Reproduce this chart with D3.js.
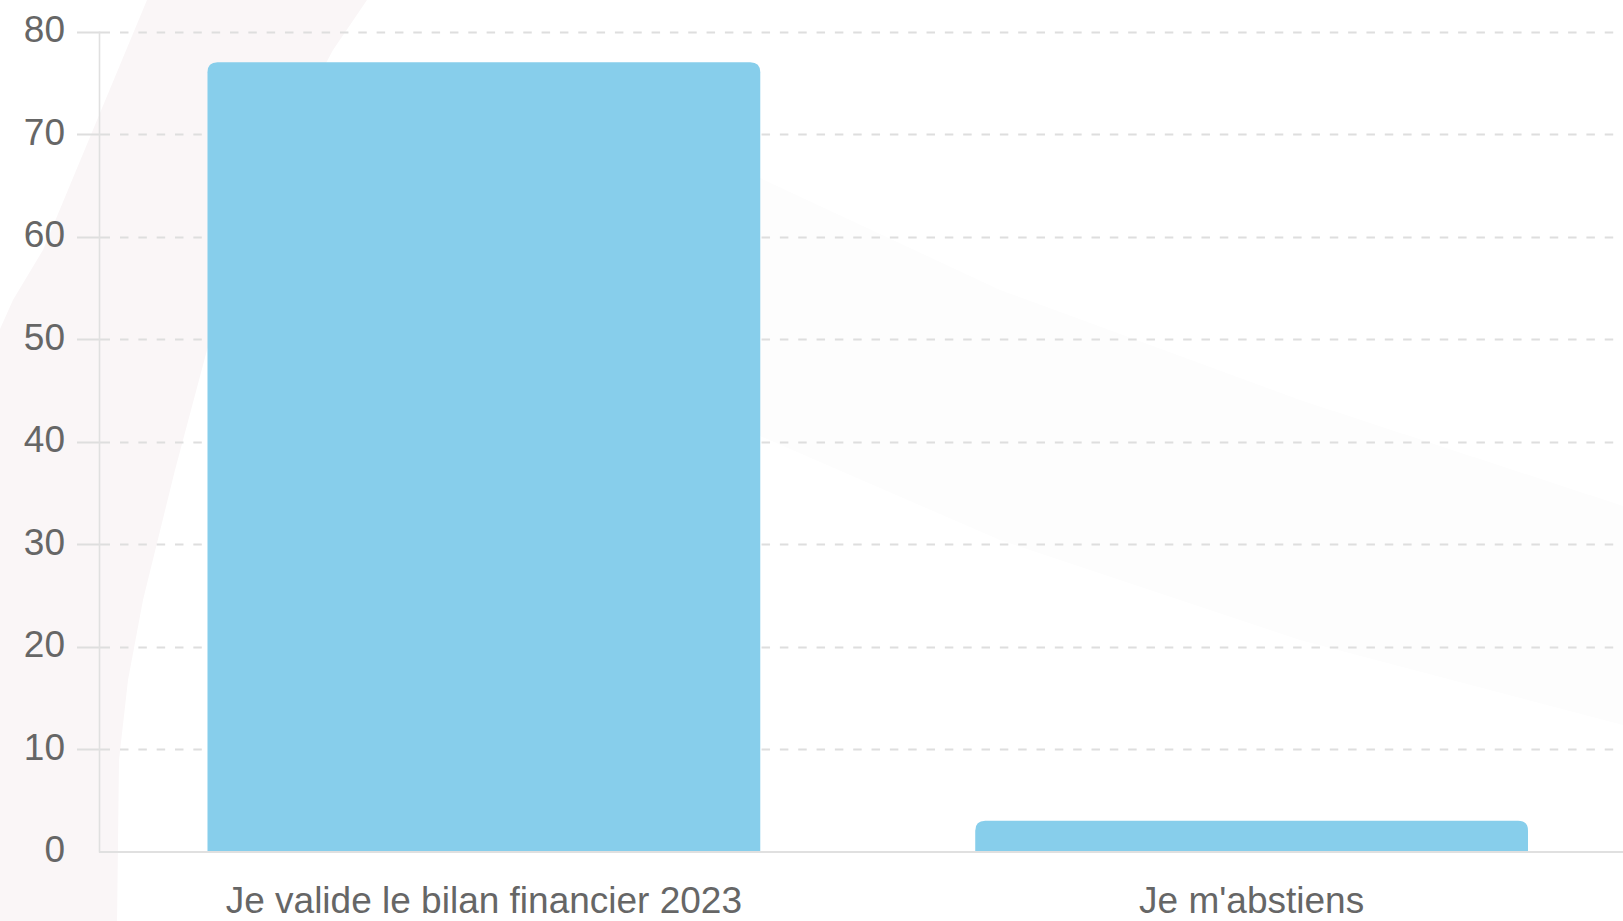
<!DOCTYPE html>
<html>
<head>
<meta charset="utf-8">
<script src="https://cdn.jsdelivr.net/npm/d3@7"></script>
<style>
  html, body { margin: 0; padding: 0; background: #ffffff; overflow: hidden; }
  svg { display: block; }
  text { font-family: "Liberation Sans", Arial, Helvetica, sans-serif; }
</style>
</head>
<body>
<svg id="chart" width="1623" height="921"></svg>
<script>
// ---- data ----
const categories = ["Je valide le bilan financier 2023", "Je m'abstiens"];
const votes = [77, 3];
const yTicks = [0, 10, 20, 30, 40, 50, 60, 70, 80];

// ---- layout ----
const W = 1623, H = 921;
const plot = { left: 100, right: 1635.5, top: 31.5, bottom: 851.5 };
const svg = d3.select("#chart");

// decorative background shapes
const pinkPts = [[147,0],[95,125],[43,250],[13,300],[-5,340],[-5,925],[117,925],[119,760],[128,680],[143,600],[175,470],[207,350],[240,250],[290,130],[333,50],[367,0]];
svg.append("path")
  .attr("d", d3.line().curve(d3.curveLinear)(pinkPts) + "Z")
  .attr("fill", "#faf6f7");
const greyPts = [[700,150],[1000,290],[1300,400],[1623,506],[1623,725],[1300,640],[1000,540],[700,410]];
svg.append("path")
  .attr("d", d3.line().curve(d3.curveLinear)(greyPts) + "Z")
  .attr("fill", "#fdfdfd");

// ---- scales ----
const y = d3.scaleLinear().domain([0, 80]).range([plot.bottom, plot.top]);
const x = d3.scaleBand().domain(categories).range([plot.left, plot.right]).padding(0);
const barFrac = 0.8 * 0.9;

// gridlines (dashed) + tick marks
const gridG = svg.append("g");
yTicks.filter(t => t !== 0).forEach(t => {
  const yy = Math.round(y(t)) + 0.5;
  gridG.append("line")
    .attr("x1", 120).attr("x2", W).attr("y1", yy).attr("y2", yy)
    .attr("stroke", "#dedede").attr("stroke-width", 2)
    .attr("stroke-dasharray", "8.5 9.83");
  gridG.append("line")
    .attr("x1", 77).attr("x2", 110).attr("y1", yy).attr("y2", yy)
    .attr("stroke", "#dedede").attr("stroke-width", 2);
});

// bars with rounded top corners
const r = 10;
function barPath(x0, w, yTop, yBot) {
  const rr = Math.min(r, (yBot - yTop), w / 2);
  return `M${x0},${yBot} L${x0},${yTop + rr} Q${x0},${yTop} ${x0 + rr},${yTop} L${x0 + w - rr},${yTop} Q${x0 + w},${yTop} ${x0 + w},${yTop + rr} L${x0 + w},${yBot} Z`;
}
svg.append("g").selectAll("path")
  .data(categories.map((c, i) => ({ c, v: votes[i] })))
  .join("path")
  .attr("d", d => {
    const w = x.bandwidth() * barFrac;
    const x0 = x(d.c) + (x.bandwidth() - w) / 2;
    return barPath(x0, w, y(d.v), y(0));
  })
  .attr("fill", "#87ceeb");

// axes lines
svg.append("line")
  .attr("x1", 99.5).attr("x2", 99.5).attr("y1", y(80)).attr("y2", y(0) + 1)
  .attr("stroke", "#e0e0e0").attr("stroke-width", 1.6);
svg.append("line")
  .attr("x1", 99).attr("x2", W).attr("y1", y(0) + 0.5).attr("y2", y(0) + 0.5)
  .attr("stroke", "#e0e0e0").attr("stroke-width", 2);

// y tick labels
svg.append("g").selectAll("text")
  .data(yTicks)
  .join("text")
  .attr("x", 65)
  .attr("y", d => y(d) + 10.5)
  .attr("text-anchor", "end")
  .attr("font-size", 37)
  .attr("fill", "#666666")
  .text(d => d);

// x category labels
svg.append("g").selectAll("text")
  .data(categories)
  .join("text")
  .attr("x", d => x(d) + x.bandwidth() / 2)
  .attr("y", 913)
  .attr("text-anchor", "middle")
  .attr("font-size", 37)
  .attr("fill", "#666666")
  .text(d => d);
</script>
</body>
</html>
